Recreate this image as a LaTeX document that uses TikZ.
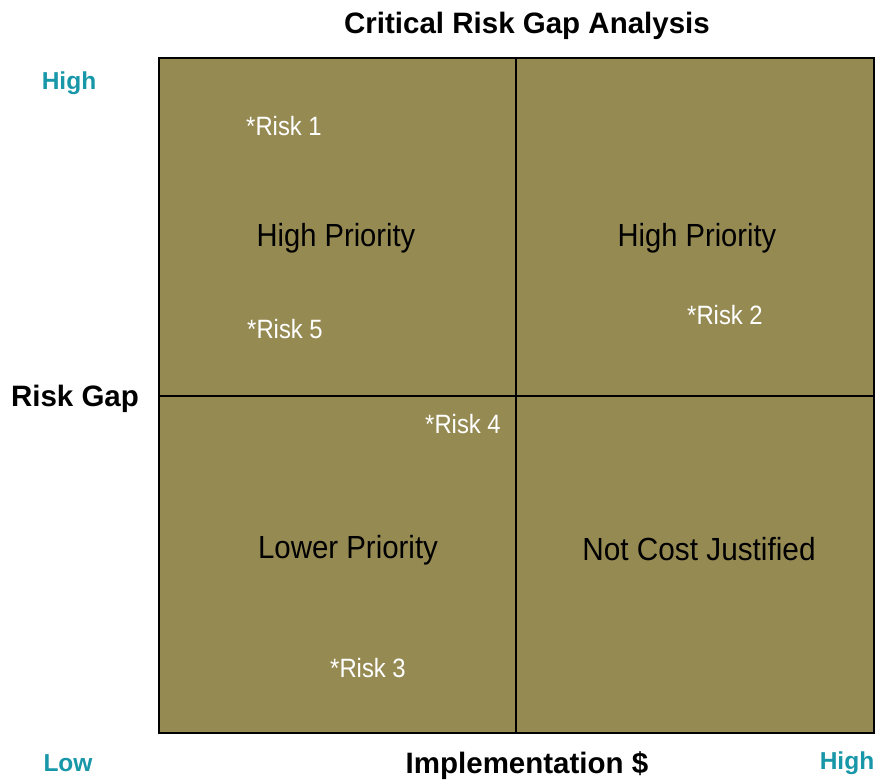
\documentclass[tikz,border=0pt]{standalone}
\usepackage{fontspec}
\setmainfont{Liberation Sans}
\definecolor{quadfill}{HTML}{968A53}
\definecolor{axisteal}{HTML}{1797A8}
% horizontally condensed text
\newcommand{\condensed}[2]{\scalebox{#1}[1]{#2}}
\begin{document}
\begin{tikzpicture}[x=1pt,y=-1pt,
  title/.style={font=\bfseries\fontsize{29.5}{31}\selectfont, text=black, inner sep=0pt},
  axislabel/.style={font=\bfseries\fontsize{29.5}{31}\selectfont, text=black, inner sep=0pt},
  endlabel/.style={font=\bfseries\fontsize{24.5}{26}\selectfont, text=axisteal, inner sep=0pt},
  quadlabel/.style={font=\fontsize{32}{34}\selectfont, text=black, inner sep=0pt},
  risk/.style={font=\fontsize{26.5}{28}\selectfont, text=white, inner sep=0pt}]
  \useasboundingbox[fill=white] (0,0) rectangle (875,783);
  % quadrant grid
  \fill[quadfill] (159,58) rectangle (874,733);
  \coordinate (tl) at (159,58);
  \coordinate (br) at (874,733);
  \coordinate (vtop) at (516,58);
  \coordinate (vbot) at (516,733);
  \coordinate (hleft) at (159,396);
  \coordinate (hright) at (874,396);
  \draw[line width=1.5pt] (vtop) -- (vbot);
  \draw[line width=1.5pt] (hleft) -- (hright);
  \draw[line width=2pt] (tl) rectangle (br);
  % titles and axes
  \node[title] (ttl) at (527,26) {Critical Risk Gap Analysis};
  \node[axislabel] (ylab) at (75,399) {Risk Gap};
  \node[axislabel] (xlab) at (527,766) {Implementation \$};
  \node[endlabel] (yhigh) at (69,83) {High};
  \node[endlabel] (xlow) at (68,763) {Low};
  \node[endlabel] (xhigh) at (847,763) {High};
  % quadrant labels
  \node[quadlabel] (q1) at (336,238) {\condensed{0.91}{High Priority}};
  \node[quadlabel] (q2) at (697,238) {\condensed{0.91}{High Priority}};
  \node[quadlabel] (q3) at (348,550) {\condensed{0.92}{Lower Priority}};
  \node[quadlabel] (q4) at (699,549) {\condensed{0.93}{Not Cost Justified}};
  % risks
  \node[risk] (r1) at (284,126) {\condensed{0.9}{*Risk 1}};
  \node[risk] (r5) at (285,329) {\condensed{0.9}{*Risk 5}};
  \node[risk] (r2) at (725,315) {\condensed{0.9}{*Risk 2}};
  \node[risk] (r4) at (463,424) {\condensed{0.9}{*Risk 4}};
  \node[risk] (r3) at (368,668) {\condensed{0.9}{*Risk 3}};
\end{tikzpicture}
\end{document}
